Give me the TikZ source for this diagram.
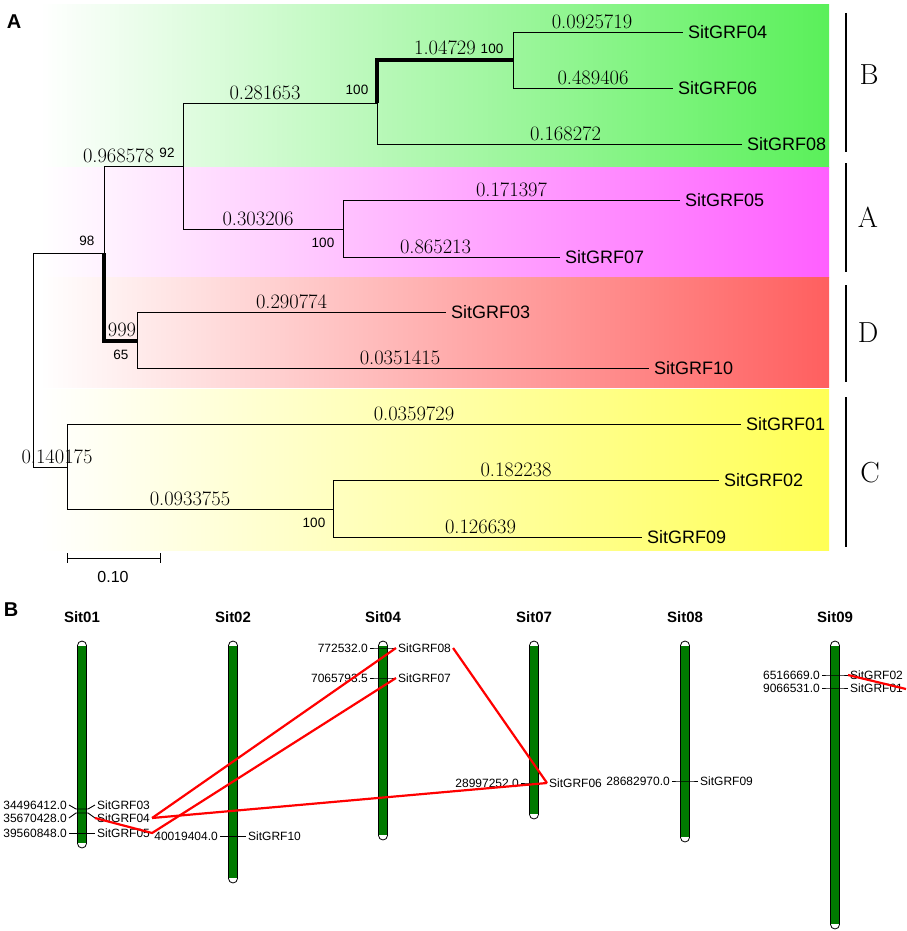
\documentclass[tikz,border=0pt]{standalone}
\usepackage{fontspec}
\setsansfont{Liberation Sans}
\definecolor{cladeB}{RGB}{90,240,90}
\definecolor{cladeA}{RGB}{255,95,255}
\definecolor{cladeD}{RGB}{255,95,95}
\definecolor{cladeC}{RGB}{255,255,85}
\definecolor{chromgreen}{RGB}{0,122,0}
\newcommand{\chromo}[4]{%
  \draw[line width=0.8pt, fill=white, rounded corners=4.5pt] (#2-4.5,641) rectangle (#2+4.5,#3);
  \fill[chromgreen] (#2-3.6,646) rectangle (#2+3.6,#3-5);
  \node[ctitle] (#1) at (#2,617) {#4};}
\newcommand{\genemark}[6]{%
  \node[locus] (p#1) at (#2-13,#3) {#4};
  \node[gene] (#1) at (#2+13,#3) {#5};
  \draw[tick] (p#1.east) -- (#2-6,#6) -- (#2+6,#6) -- (#1.west);}
\begin{document}
\begin{tikzpicture}[x=1pt, y=-1pt,
    br/.style = {line width=0.9pt},
    hv/.style = {line width=4.2pt},
    serifnum/.style = {font=\fontsize{20.5}{20.5}\selectfont},
    len/.style = {serifnum, inner sep=3pt, above, pos=0.75},
    boot/.style = {font=\sffamily\fontsize{13.5}{13.5}\selectfont, inner sep=0pt},
    leaf/.style = {font=\sffamily\fontsize{18}{18}\selectfont, anchor=west, inner xsep=5pt, inner ysep=0pt},
    clade/.style = {font=\fontsize{29}{29}\selectfont},
    panel/.style = {font=\sffamily\bfseries\fontsize{20}{20}\selectfont},
    ctitle/.style = {font=\sffamily\bfseries\fontsize{15}{15}\selectfont},
    locus/.style = {font=\sffamily\fontsize{12}{12}\selectfont, anchor=east, inner xsep=2pt, inner ysep=0pt},
    gene/.style = {font=\sffamily\fontsize{12}{12}\selectfont, anchor=west, inner xsep=2pt, inner ysep=0pt},
    tick/.style = {line width=0.9pt},
    link/.style = {red, line width=2.2pt}]
\useasboundingbox (0,0) rectangle (906,931);

\shade[left color=white, right color=cladeB] (40,5) rectangle (829,167);
\shade[left color=white, right color=cladeA] (40,167) rectangle (829,277);
\shade[left color=white, right color=cladeD] (40,277) rectangle (829,387);
\shade[left color=white, right color=cladeC] (40,389) rectangle (829,550);

\node[panel] (pA) at (14,22) {A};

\coordinate (root) at (33,360);
\coordinate (n98) at (104,253);
\coordinate (n92) at (183,166);
\coordinate (nB) at (377,103);
\coordinate (n46) at (513,60);
\coordinate (nA) at (343,229);
\coordinate (n65) at (137,341);
\coordinate (nC) at (67,467);
\coordinate (n29) at (333,509);

\node[leaf] (g04) at (683,32) {SitGRF04};
\node[leaf] (g06) at (673,88) {SitGRF06};
\node[leaf] (g08) at (742,144) {SitGRF08};
\node[leaf] (g05) at (680,200) {SitGRF05};
\node[leaf] (g07) at (560,257) {SitGRF07};
\node[leaf] (g03) at (446,312) {SitGRF03};
\node[leaf] (g10) at (649,368) {SitGRF10};
\node[leaf] (g01) at (741,424) {SitGRF01};
\node[leaf] (g02) at (719,480) {SitGRF02};
\node[leaf] (g09) at (642,537) {SitGRF09};

\draw[br] (root) |- (n98);
\draw[br] (root) |- node[len, xshift=7] {0.140175} (nC);
\draw[br] (n98) |- node[len, xshift=-25] {0.968578} (n92);
\draw[hv] (n98) |- (n65);
\draw[br] (n92) |- node[len, xshift=-15] {0.281653} (nB);
\draw[br] (n92) |- node[len, xshift=-5] {0.303206} (nA);
\draw[hv] (nB) |- node[len] {1.04729} (n46);
\draw[br] (nB) |- node[len, xshift=6] {0.168272} (g08.west);
\draw[br] (n46) |- node[len, xshift=-6] {0.0925719} (g04.west);
\draw[br] (n46) |- node[len] {0.489406} (g06.west);
\draw[br] (nA) |- node[len] {0.171397} (g05.west);
\draw[br] (nA) |- node[len, xshift=-16] {0.865213} (g07.west);
\draw[br] (n65) |- node[len] {0.290774} (g03.west);
\draw[br] (n65) |- node[len, xshift=7] {0.0351415} (g10.west);
\draw[br] (nC) |- node[len, xshift=10] {0.0359729} (g01.west);
\draw[br] (nC) |- node[len, xshift=-10] {0.0933755} (n29);
\draw[br] (n29) |- node[len, xshift=-10] {0.182238} (g02.west);
\draw[br] (n29) |- node[len, xshift=-7] {0.126639} (g09.west);

\node[boot] (b1) at (492,49) {100};
\node[boot] (b2) at (357,90) {100};
\node[boot] (b3) at (167,153) {92};
\node[boot] (b4) at (87,241) {98};
\node[boot] (b5) at (323,243) {100};
\node[serifnum, inner sep=0pt] (b6) at (122,330) {999};
\node[boot] (b7) at (121,355) {65};
\node[boot] (b8) at (314,523) {100};

\coordinate (sb1) at (67,558);
\coordinate (sb2) at (160,558);
\draw[br] (sb1) -- (sb2);
\draw[br] ([yshift=5pt]sb1) -- ([yshift=-5pt]sb1);
\draw[br] ([yshift=5pt]sb2) -- ([yshift=-5pt]sb2);
\node[font=\sffamily\fontsize{16}{16}\selectfont] (sbl) at (113,577) {0.10};

\draw[line width=2.5pt] (846,13) -- (846,152);
\draw[line width=2.5pt] (846,163) -- (846,272);
\draw[line width=2.5pt] (846,285) -- (846,382);
\draw[line width=2.5pt] (846,397) -- (846,547);
\node[clade] (cB) at (869,75) {B};
\node[clade] (cA) at (868,217) {A};
\node[clade] (cD) at (868,333) {D};
\node[clade] (cC) at (870,473) {C};

\node[panel] (pB) at (11,610) {B};

\chromo{s01}{82}{848}{Sit01}
\chromo{s02}{233}{883}{Sit02}
\chromo{s04}{383}{840}{Sit04}
\chromo{s07}{534}{819}{Sit07}
\chromo{s08}{685}{842}{Sit08}
\chromo{s09}{835}{929}{Sit09}

\genemark{c03}{82}{805}{34496412.0}{SitGRF03}{809}
\genemark{c04}{82}{818}{35670428.0}{SitGRF04}{813}
\genemark{c05}{82}{833}{39560848.0}{SitGRF05}{833}
\genemark{c10}{233}{836}{40019404.0}{SitGRF10}{836}
\genemark{c08}{383}{648}{772532.0}{SitGRF08}{648}
\genemark{c07}{383}{678}{7065793.5}{SitGRF07}{678}
\genemark{c06}{534}{783}{28997252.0}{SitGRF06}{783}
\genemark{c09}{685}{781}{28682970.0}{SitGRF09}{781}
\genemark{c02}{835}{675}{6516669.0}{SitGRF02}{675}
\genemark{c01}{835}{688}{9066531.0}{SitGRF01}{688}

\coordinate (edge09) at (906,689);
\draw[link] (c04.east) -- (c08.west);
\draw[link] (c04.east) -- (c06.west);
\draw[link] (c08.east) -- (c06.west);
\draw[link] (c04.west) -- (c05.east) -- (c07.west);
\draw[link] (c02.west) -- (edge09);
\end{tikzpicture}
\end{document}
